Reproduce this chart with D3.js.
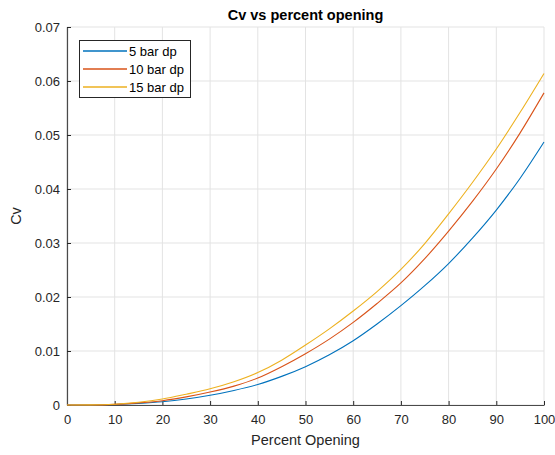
<!DOCTYPE html>
<html><head><meta charset="utf-8">
<script src="https://cdn.jsdelivr.net/npm/d3@7/dist/d3.min.js"></script>
<style>body{margin:0;background:#fff;} text{font-family:"Liberation Sans",Arial,sans-serif;}</style>
</head><body>
<svg id="c" width="555" height="455"></svg>
<script>
const percent = [0,5,10,15,20,25,30,35,40,45,50,55,60,65,70,75,80,85,90,95,100];
const cv5  = [0,0.00001,0.0001,0.0003,0.0006,0.0011,0.0018,0.0027,0.0038,0.0053,0.0071,0.0093,0.0119,0.0150,0.0184,0.0221,0.0262,0.0309,0.0361,0.0420,0.0487];
const cv10 = [0,0.00001,0.00012,0.0004,0.0008,0.0015,0.0024,0.0035,0.0050,0.0071,0.0095,0.0122,0.0153,0.0188,0.0226,0.0271,0.0322,0.0377,0.0437,0.0504,0.0578];
const cv15 = [0,0.00002,0.00015,0.0005,0.0011,0.0020,0.0030,0.0043,0.0060,0.0083,0.0111,0.0141,0.0174,0.0210,0.0251,0.0299,0.0354,0.0412,0.0474,0.0542,0.0614];
const seriesNames = ["5 bar dp","10 bar dp","15 bar dp"];
const colors = ["#0072BD","#D95319","#EDB120"];
const xTicks = [0,10,20,30,40,50,60,70,80,90,100];
const yTicks = [0,0.01,0.02,0.03,0.04,0.05,0.06,0.07];

const svg = d3.select("#c");
const L=67, R=544, T=27, B=405;
const x = d3.scaleLinear().domain([0,100]).range([L,R]);
const y = d3.scaleLinear().domain([0,0.07]).range([B,T]);

// grid
svg.append("g").selectAll("line").data(xTicks).join("line")
  .attr("x1",d=>x(d)).attr("x2",d=>x(d)).attr("y1",T).attr("y2",B)
  .attr("stroke","#e3e3e3").attr("stroke-width",1);
svg.append("g").selectAll("line").data(yTicks).join("line")
  .attr("x1",L).attr("x2",R).attr("y1",d=>y(d)).attr("y2",d=>y(d))
  .attr("stroke","#e3e3e3").attr("stroke-width",1);

// axes
const xa = svg.append("g").attr("transform",`translate(0,${B})`)
  .call(d3.axisBottom(x).tickValues(xTicks).tickSizeInner(-4).tickSizeOuter(0).tickPadding(10).tickFormat(d3.format("d")));
const ya = svg.append("g").attr("transform",`translate(${L},0)`)
  .call(d3.axisLeft(y).tickValues(yTicks).tickSizeInner(-4).tickSizeOuter(0).tickPadding(7).tickFormat(d=>d===0?"0":d3.format(".2f")(d)));
[xa,ya].forEach(a=>{
  a.select(".domain").attr("stroke","#4a4a4a").attr("stroke-width",1.2);
  a.selectAll(".tick line").attr("stroke","#262626");
  a.selectAll(".tick text").attr("fill","#262626").style("font-size","13px").style("font-family","Liberation Sans, Arial, sans-serif");
});

// lines
const allSeries=[cv5,cv10,cv15];
const line = d3.line().x((d,i)=>x(percent[i])).y(d=>y(d)).curve(d3.curveMonotoneX);
allSeries.forEach((s,k)=>{
  svg.append("path").datum(s).attr("d",line).attr("fill","none")
    .attr("stroke",colors[k]).attr("stroke-width",1.1);
});

// title & labels
svg.append("text").attr("x",(L+R)/2).attr("y",20).attr("text-anchor","middle")
  .style("font-size","14.5px").style("font-weight","bold").attr("fill","#000").text("Cv vs percent opening");
svg.append("text").attr("x",(L+R)/2).attr("y",445).attr("text-anchor","middle")
  .style("font-size","14.5px").attr("fill","#262626").text("Percent Opening");
svg.append("text").attr("transform",`translate(20.5,${(T+B)/2}) rotate(-90)`).attr("text-anchor","middle")
  .style("font-size","14.5px").attr("fill","#262626").text("Cv");

// legend
const lg = svg.append("g");
lg.append("rect").attr("x",79.5).attr("y",40.5).attr("width",111).attr("height",57)
  .attr("fill","#fff").attr("stroke","#262626").attr("stroke-width",1);
seriesNames.forEach((n,k)=>{
  const yy = 51 + k*18;
  lg.append("path").attr("d",`M83,${yy}H127`).attr("fill","none")
    .attr("stroke",colors[k]).attr("stroke-width",1.5);
  lg.append("text").attr("x",129).attr("y",yy+5).style("font-size","13px").attr("fill","#000").text(n);
});
</script>
</body></html>
